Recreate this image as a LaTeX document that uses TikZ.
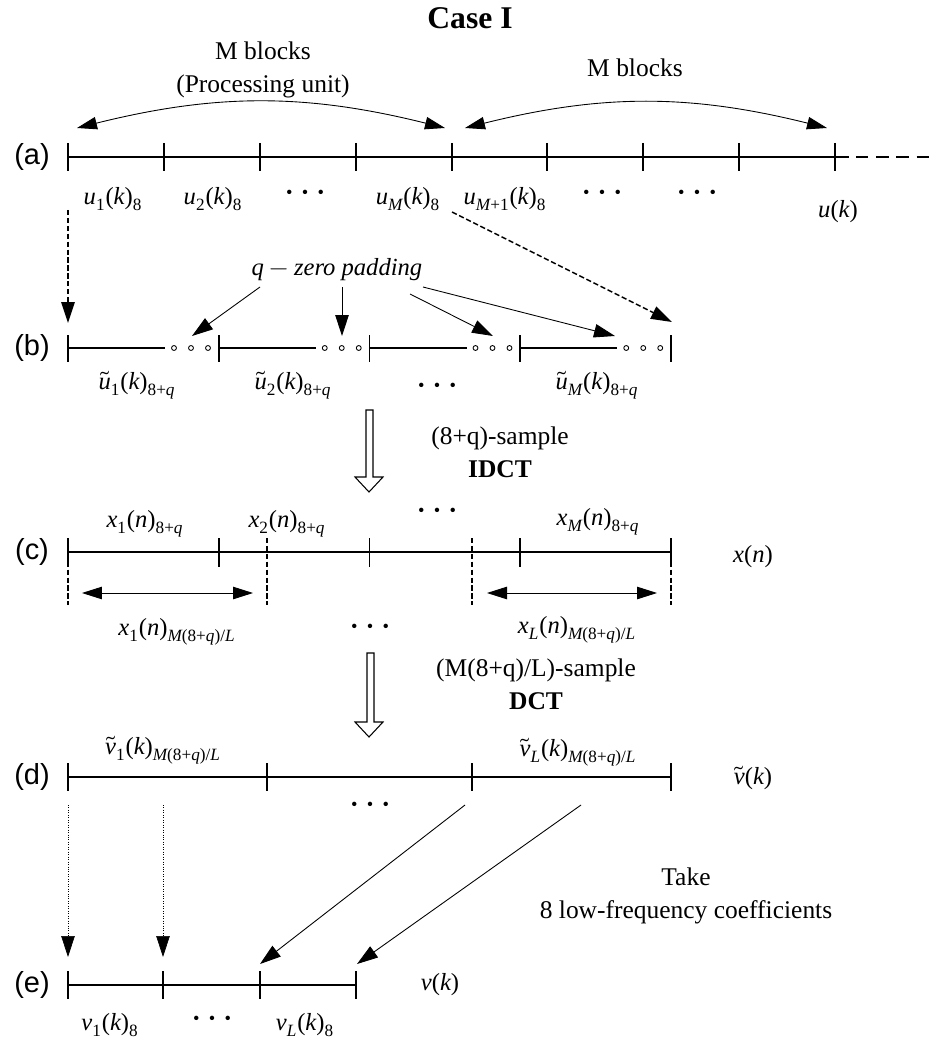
\documentclass[tikz,border=0pt]{standalone}
\usepackage{unicode-math}
\setmainfont{Liberation Serif}
\setmathfont{Latin Modern Math}
\setmathfont{Liberation Serif}[range={up/{num},"2B,"2212,"28,"29,"2F}]
\setmathfont{Liberation Serif Italic}[range={it/{Latin,latin}}]
\newfontfamily\rowfont{Liberation Sans}
\usetikzlibrary{arrows.meta}
\newcommand{\threedots}{{\fontsize{10.5}{10.5}\selectfont\textbullet\hspace{5.3pt}\textbullet\hspace{5.3pt}\textbullet}}

\begin{document}
\begin{tikzpicture}[x=0.02cm, y=-0.02cm,
    bar/.style = {line width=1.1pt},
    tickmark/.style = {line width=1pt},
    rowlabel/.style = {font=\rowfont\fontsize{16.5}{16.5}\selectfont},
    lab/.style = {font=\fontsize{14}{14}\selectfont, inner sep=1pt},
    txt/.style = {font=\fontsize{14.5}{19}\selectfont, align=center},
    arr/.style = {-{Triangle[length=0.42cm,width=0.27cm]}, line width=0.5pt},
    darr/.style = {{Triangle[length=0.4cm,width=0.25cm]}-{Triangle[length=0.4cm,width=0.25cm]}, line width=0.5pt},
    dasharr/.style = {arr, line width=0.8pt, dash pattern=on 3pt off 1.5pt},
    dotarr/.style = {arr, line width=0.4pt, densely dotted},
    hollow/.style = {draw, line width=0.6pt, fill=white}]
    \useasboundingbox (0,0) rectangle (929,1040);

    \node[font=\bfseries\fontsize{18}{20}\selectfont] (title) at (470,18) {Case I};
    \node[txt] (mb1) at (263,70) {M blocks\\(Processing unit)};
    \node[txt] (mb2) at (635,68) {M blocks};
    \node[txt] (idct) at (500,452) {(8+q)-sample\\\textbf{IDCT}};
    \node[txt] (dct) at (536,684) {(M(8+q)/L)-sample\\\textbf{DCT}};
    \node[txt] (take) at (686,896) {Take\\8 low-frequency coefficients};

    \node[rowlabel] (ra) at (32,157) {(a)};
    \node[rowlabel] (rb) at (32,348) {(b)};
    \node[rowlabel] (rc) at (32,552) {(c)};
    \node[rowlabel] (rd) at (32,777) {(d)};
    \node[rowlabel] (re) at (32,985) {(e)};

    % (a) input blocks
    \draw[bar] (68,157) -- (849,157);
    \draw[bar, dash pattern=on 7pt off 4.5pt] (856,157) -- (929,157);
    \foreach \x in {68,164,260,356,452,547,643,739,835}
        \draw[tickmark] (\x,143) -- (\x,171);
    \coordinate (a0) at (77,128);
    \coordinate (a1) at (445,128);
    \coordinate (a2) at (465,128);
    \coordinate (a3) at (827,128);
    \draw[darr] (a0) to[bend left=14] (a1);
    \draw[darr] (a2) to[bend left=14] (a3);

    \node[lab] (u1) at (113,199) {$u_1(k)_8$};
    \node[lab] (u2) at (213,199) {$u_2(k)_8$};
    \node[lab] (ud1) at (305,194) {\threedots};
    \node[lab] (uM) at (408,199) {$u_M(k)_8$};
    \node[lab] (uM1) at (505,199) {$u_{M+1}(k)_8$};
    \node[lab] (ud2) at (602,194) {\threedots};
    \node[lab] (ud3) at (697,194) {\threedots};
    \node[lab] (u) at (838,212) {$u(k)$};

    % (b) zero padded blocks
    \foreach \x in {68,218.75,369.5,520.25} {
        \draw[bar] (\x,348) -- ++(97,0);
        \foreach \d in {106,123,140}
            \draw[line width=0.5pt] (\x+\d,348) circle (1.4pt);
    }
    \foreach \x in {68,218.75,369.5,520.25,671}
        \draw[tickmark] (\x,335) -- (\x,362);
    \node[lab] (qz) at (337,270) {$q-\textit{zero padding}$};
    \node[lab] (ub1) at (137,385) {$\tilde u_1(k)_{8+q}$};
    \node[lab] (ub2) at (293,385) {$\tilde u_2(k)_{8+q}$};
    \node[lab] (ubd) at (437,387) {\threedots};
    \node[lab] (ubM) at (597,385) {$\tilde u_M(k)_{8+q}$};

    \coordinate (s1) at (68,210);
    \coordinate (t1) at (68,323);
    \coordinate (s2) at (452,212);
    \coordinate (t2) at (672,322);
    \draw[dasharr] (s1) -- (t1);
    \draw[dasharr] (s2) -- (t2);
    \coordinate (q1) at (260,287);
    \coordinate (q2) at (342,287);
    \coordinate (q3) at (410,294);
    \coordinate (q4) at (423,287);
    \coordinate (p1) at (192,336);
    \coordinate (p2) at (342,336);
    \coordinate (p3) at (493,336);
    \coordinate (p4) at (615,336);
    \foreach \i in {1,...,4}
        \draw[arr] (q\i) -- (p\i);

    \draw[hollow] (366,410) -- (366,477) -- (355,477) -- (369,492) -- (383,477) -- (373,477) -- (373,410) -- cycle;

    % (c) IDCT output
    \draw[bar] (68,552) -- (671,552);
    \foreach \x in {68,218.75,369.5,520.25,671}
        \draw[tickmark] (\x,538) -- (\x,567);
    \foreach \x in {68,267,472,671}
        \draw[line width=0.8pt, dash pattern=on 3pt off 1.5pt] (\x,538) -- (\x,605);
    \coordinate (c0) at (82,593);
    \coordinate (c1) at (253,593);
    \coordinate (c2) at (487,593);
    \coordinate (c3) at (657,593);
    \draw[darr] (c0) -- (c1);
    \draw[darr] (c2) -- (c3);
    \node[lab] (x1) at (145,524) {$x_1(n)_{8+q}$};
    \node[lab] (x2) at (287,524) {$x_2(n)_{8+q}$};
    \node[lab] (xd1) at (437,512) {\threedots};
    \node[lab] (xM) at (598,522) {$x_M(n)_{8+q}$};
    \node[lab] (x) at (753,557) {$x(n)$};
    \node[lab] (xL1) at (177,632) {$x_1(n)_{M(8+q)/L}$};
    \node[lab] (xd2) at (370,628) {\threedots};
    \node[lab] (xL) at (577,630) {$x_L(n)_{M(8+q)/L}$};

    \draw[hollow] (367,653) -- (367,722) -- (355,722) -- (369,737) -- (383,722) -- (374,722) -- (374,653) -- cycle;

    % (d) DCT output
    \draw[bar] (68,777) -- (671,777);
    \foreach \x in {68,267,472,671}
        \draw[tickmark] (\x,763) -- (\x,791);
    \node[lab] (v1) at (163,750) {$\tilde v_1(k)_{M(8+q)/L}$};
    \node[lab] (vL) at (578,752) {$\tilde v_L(k)_{M(8+q)/L}$};
    \node[lab] (v) at (753,778) {$\tilde v(k)$};
    \node[lab] (vd) at (370,806) {\threedots};

    % (e) kept coefficients
    \draw[bar] (68,985) -- (356,985);
    \foreach \x in {68,163,260,356}
        \draw[tickmark] (\x,971) -- (\x,999);
    \node[lab] (e1) at (110,1025) {$v_1(k)_8$};
    \node[lab] (ed) at (212,1020) {\threedots};
    \node[lab] (eL) at (305,1025) {$v_L(k)_8$};
    \node[lab] (e) at (440,985) {$v(k)$};

    \coordinate (d1) at (68,805);
    \coordinate (d2) at (163,805);
    \coordinate (d3) at (465,805);
    \coordinate (d4) at (581,805);
    \coordinate (f1) at (68,957);
    \coordinate (f2) at (163,957);
    \coordinate (f3) at (260,964);
    \coordinate (f4) at (357,964);
    \draw[dotarr] (d1) -- (f1);
    \draw[dotarr] (d2) -- (f2);
    \draw[arr] (d3) -- (f3);
    \draw[arr] (d4) -- (f4);
\end{tikzpicture}
\end{document}
